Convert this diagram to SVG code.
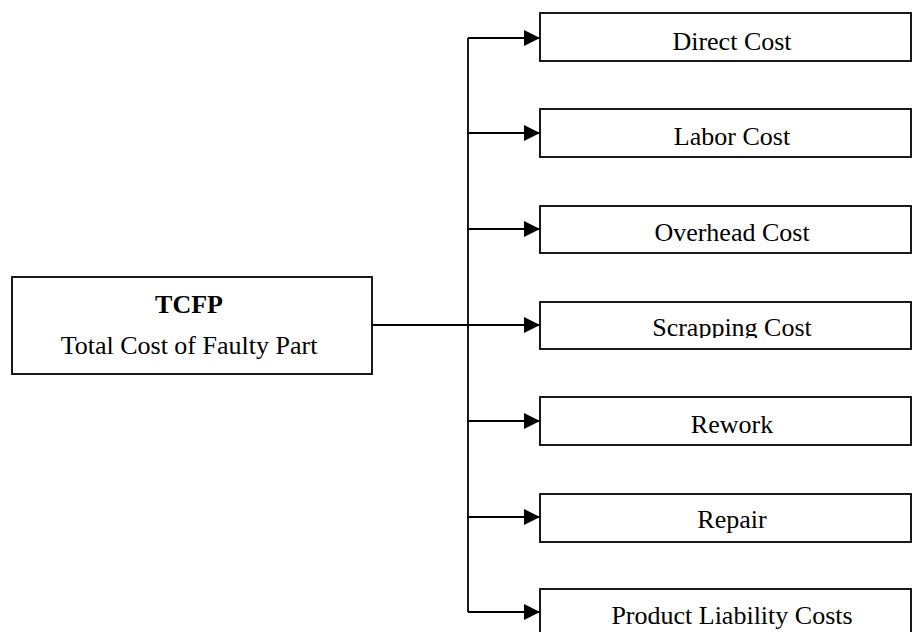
<svg xmlns="http://www.w3.org/2000/svg" width="913" height="632" viewBox="0 0 913 632">
<style>
.box{fill:#fff;stroke:#000;stroke-width:1.8}
.t{font-family:"Liberation Serif","Times New Roman",serif;font-size:26px;fill:#000;text-anchor:middle}
.c{fill:none;stroke:#000;stroke-width:1.8}
</style>
<defs>
<marker id="ah" markerWidth="16" markerHeight="16" refX="16" refY="8" orient="auto" markerUnits="userSpaceOnUse">
<path d="M0,0 L16,8 L0,16 Z" fill="#000"/>
</marker>
<clipPath id="scrapClip"><rect x="540" y="300" width="373" height="38"/></clipPath>
</defs>
<rect width="913" height="632" fill="#fff"/>
<g id="connectors">
<line class="c" x1="372" y1="325" x2="468" y2="325"/>
<line class="c" x1="468" y1="38" x2="468" y2="612"/>
<line class="c" x1="468" y1="38" x2="540" y2="38" marker-end="url(#ah)"/>
<line class="c" x1="468" y1="133" x2="540" y2="133" marker-end="url(#ah)"/>
<line class="c" x1="468" y1="229" x2="540" y2="229" marker-end="url(#ah)"/>
<line class="c" x1="468" y1="325" x2="540" y2="325" marker-end="url(#ah)"/>
<line class="c" x1="468" y1="421" x2="540" y2="421" marker-end="url(#ah)"/>
<line class="c" x1="468" y1="517" x2="540" y2="517" marker-end="url(#ah)"/>
<line class="c" x1="468" y1="612" x2="540" y2="612" marker-end="url(#ah)"/>
</g>
<g id="tcfp">
<rect class="box" x="12" y="277" width="360" height="97"/>
<text class="t" x="189" y="313" font-weight="bold" font-size="27">TCFP</text>
<text class="t" x="189" y="354" font-size="27">Total Cost of Faulty Part</text>
</g>
<g id="direct">
<rect class="box" x="540" y="13" width="371" height="48"/>
<text class="t" x="732" y="50">Direct Cost</text>
</g>
<g id="labor">
<rect class="box" x="540" y="109" width="371" height="48"/>
<text class="t" x="732" y="145">Labor Cost</text>
</g>
<g id="overhead">
<rect class="box" x="540" y="206" width="371" height="47"/>
<text class="t" x="732" y="241">Overhead Cost</text>
</g>
<g id="scrapping">
<rect class="box" x="540" y="302" width="371" height="47"/>
<text class="t" x="732" y="336" clip-path="url(#scrapClip)">Scrapping Cost</text>
</g>
<g id="rework">
<rect class="box" x="540" y="397" width="371" height="48"/>
<text class="t" x="732" y="433">Rework</text>
</g>
<g id="repair">
<rect class="box" x="540" y="494" width="371" height="48"/>
<text class="t" x="732" y="528">Repair</text>
</g>
<g id="liability">
<rect class="box" x="540" y="589" width="371" height="60"/>
<text class="t" x="732" y="624">Product Liability Costs</text>
</g>
</svg>
